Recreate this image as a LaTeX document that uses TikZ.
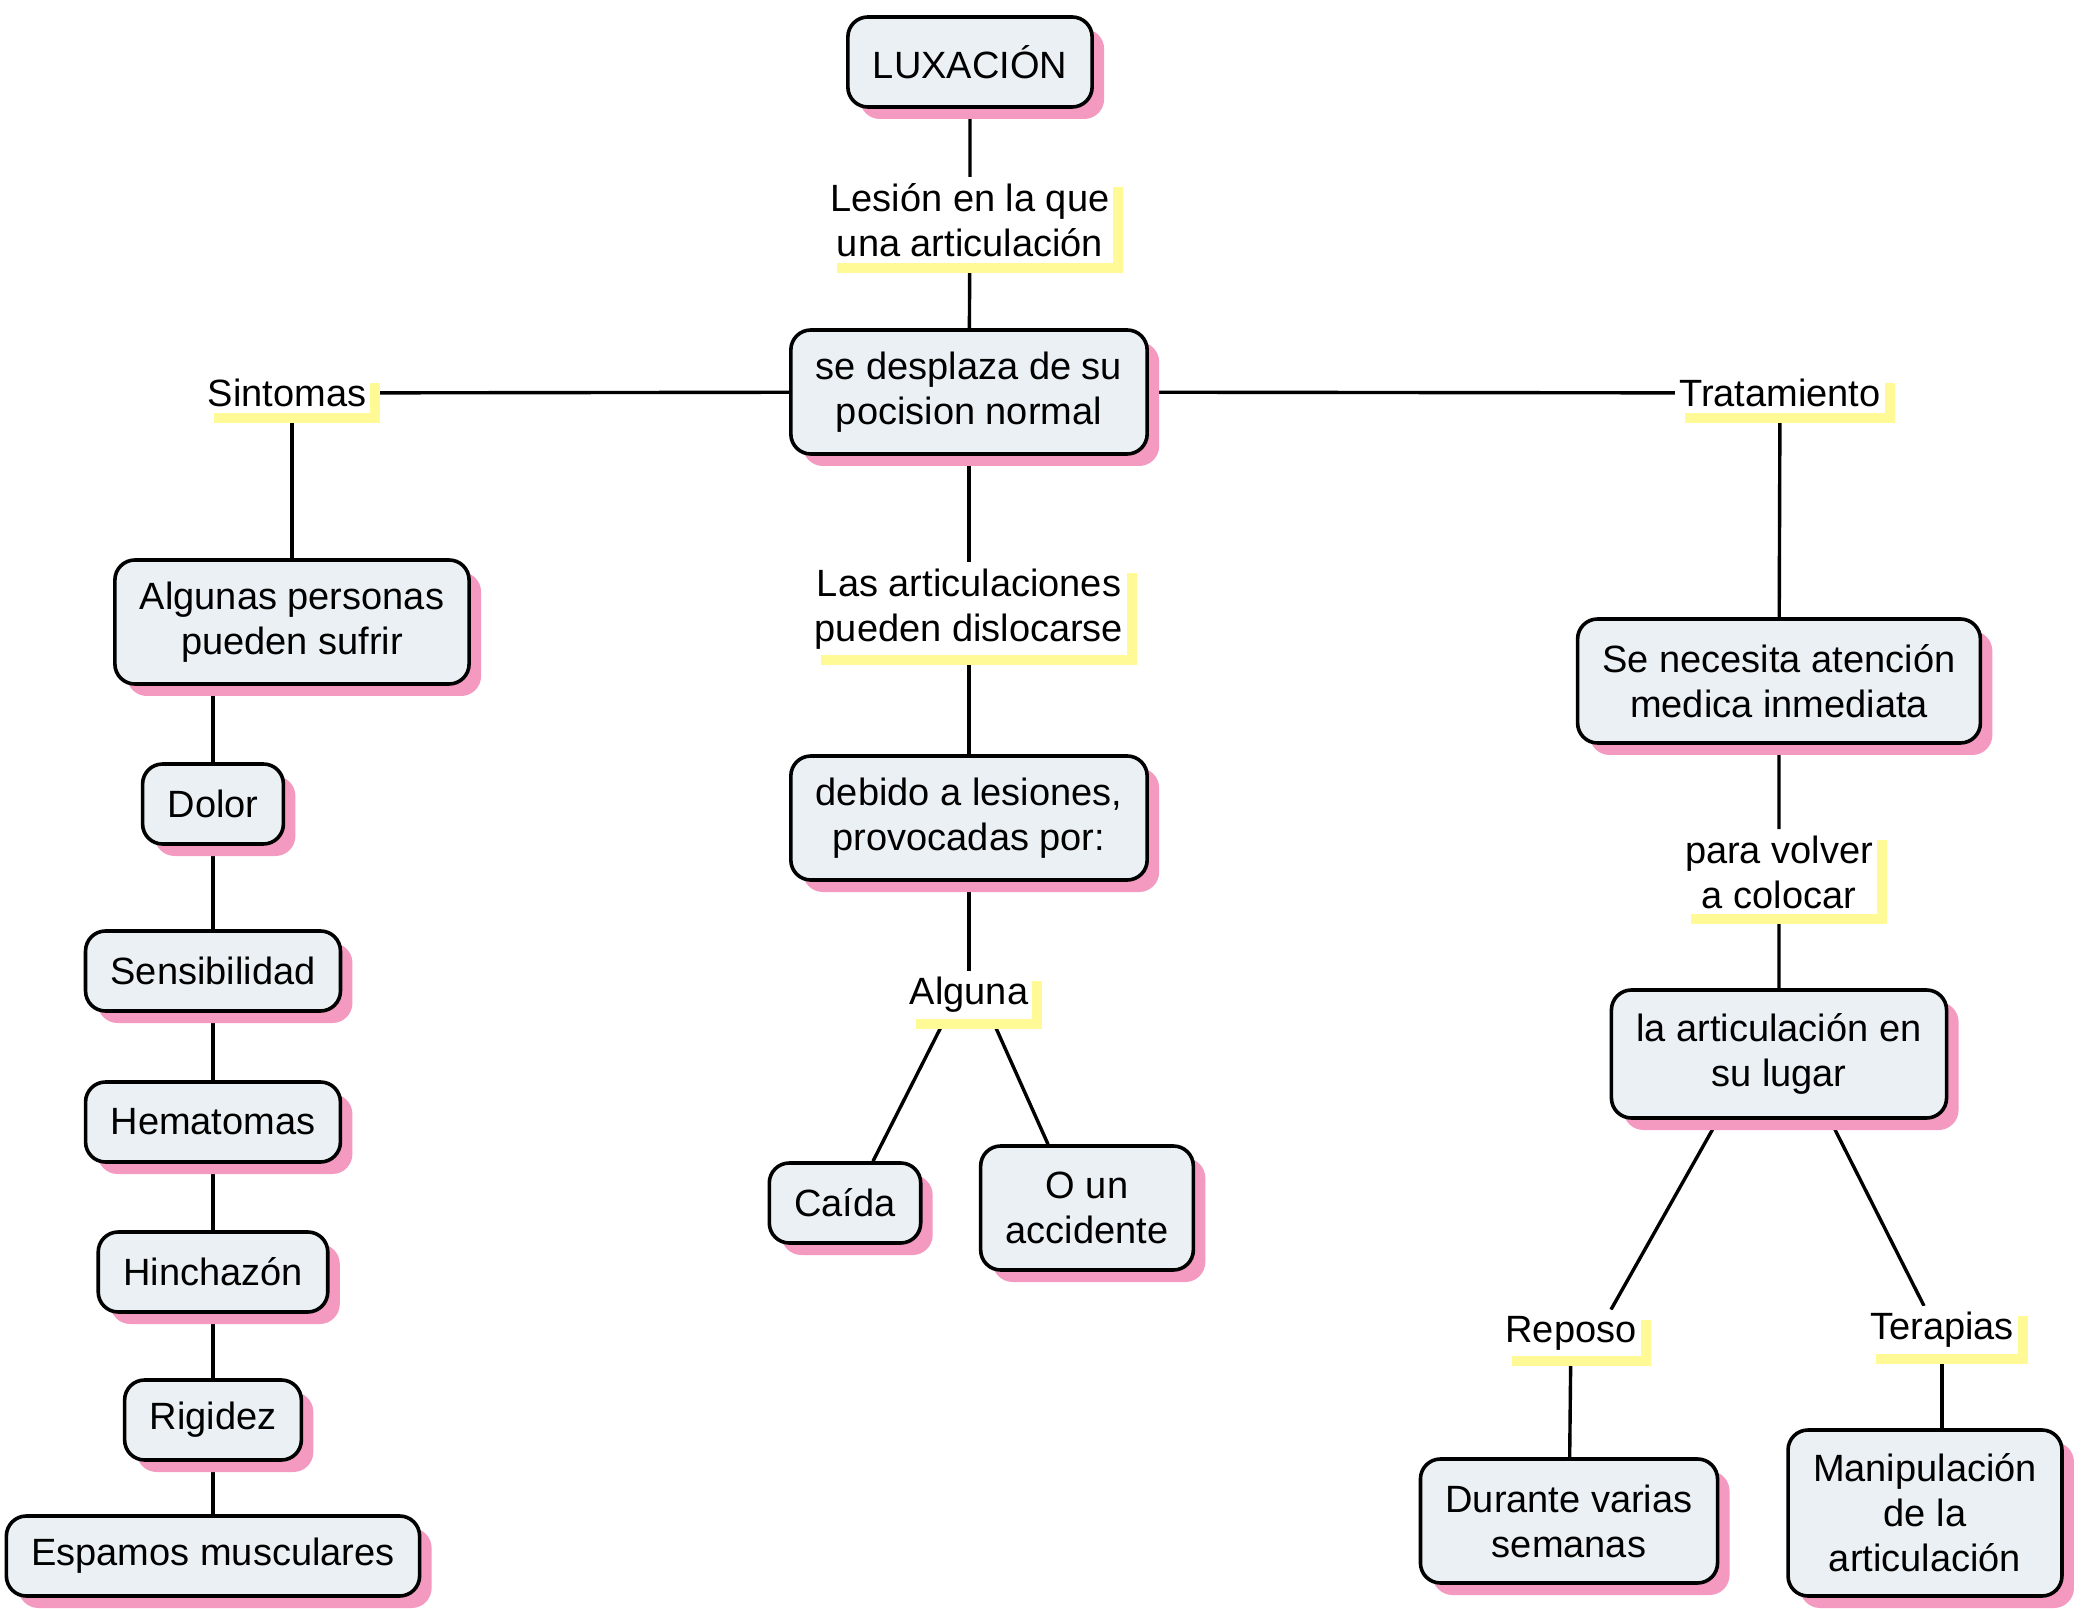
\documentclass[tikz,border=0pt]{standalone}
\usepackage{fontspec}
\setmainfont{Liberation Sans}
\usetikzlibrary{shadows,backgrounds}

\definecolor{boxfill}{RGB}{234,240,243}
\definecolor{boxpink}{RGB}{244,154,192}
\definecolor{lblyellow}{RGB}{255,249,150}

\begin{document}
\begin{tikzpicture}[x=0.5pt, y=-0.5pt,
    font=\fontsize{19}{22.5}\selectfont,
    concept/.style={draw=black, line width=1.8pt, rounded corners=10pt, fill=boxfill,
        align=center, inner xsep=12.5pt, inner ysep=4pt, minimum height=40pt,
        drop shadow={shadow xshift=6pt, shadow yshift=-6pt, fill=boxpink, opacity=1}},
    twoline/.style={concept, minimum height=62pt},
    linkword/.style={fill=white, align=center, inner xsep=2pt, inner ysep=3pt,
        drop shadow={shadow xshift=5pt, shadow yshift=-5pt, fill=lblyellow, opacity=1}},
    edge/.style={line width=1.7pt}]

    % Fix the page to the size of the original
    \useasboundingbox (0,0) rectangle (2095,1609);

    % Top of the map
    \node[concept, minimum height=45pt] (lux) at (970,62) {LUXACIÓN};
    \node[linkword] (lesion) at (970,220) {Lesión en la que\\una articulación};
    \node[twoline] (desp) at (969,392) {se desplaza de su\\pocision normal};

    % Left branch: symptoms
    \node[linkword] (sint) at (287,393) {Sintomas};
    \node[twoline] (algunas) at (292,622) {Algunas personas\\pueden sufrir};
    \node[concept] (dolor) at (213,804) {Dolor};
    \node[concept] (sensi) at (213,971) {Sensibilidad};
    \node[concept] (hema) at (213,1122) {Hematomas};
    \node[concept] (hinch) at (213,1272) {Hinchazón};
    \node[concept] (rigi) at (213,1420) {Rigidez};
    \node[concept] (espa) at (213,1556) {Espamos musculares};

    % Middle branch: causes
    \node[linkword] (artic) at (969,609) {Las articulaciones\\pueden dislocarse};
    \node[twoline] (debido) at (969,818) {debido a lesiones,\\provocadas por:};
    \node[linkword] (alguna) at (969,995) {Alguna};
    \node[concept] (caida) at (845,1203) {Caída};
    \node[twoline] (accid) at (1087,1208) {O un\\accidente};

    % Right branch: treatment
    \node[linkword] (trat) at (1780,393) {Tratamiento};
    \node[twoline] (necesita) at (1779,681) {Se necesita atención\\medica inmediata};
    \node[linkword] (volver) at (1779,872) {para volver\\a colocar};
    \node[twoline, minimum height=64pt] (lugar) at (1779,1054) {la articulación en\\su lugar};
    \node[linkword] (reposo) at (1571,1333) {Reposo};
    \node[linkword] (terap) at (1942,1330) {Terapias};
    \node[twoline] (durante) at (1569,1521) {Durante varias\\semanas};
    \node[concept, minimum height=83pt] (manip) at (1925,1513) {Manipulación\\de la\\articulación};

    % Connectors go under the nodes and their shadows
    \begin{scope}[on background layer]
        \fill[white] (0,0) rectangle (2095,1609);

        \draw[edge] (lux) -- (lesion) -- (desp);
        \draw[edge] (desp) -- (sint);
        \draw[edge] (desp) -- (trat);

        % left column
        \draw[edge] (algunas |- sint.south) -- (algunas.north);
        \draw[edge] (dolor |- algunas.south) -- (dolor.north);
        \draw[edge] (dolor) -- (sensi) -- (hema) -- (hinch) -- (rigi) -- (espa);

        % middle column
        \draw[edge] (desp) -- (artic) -- (debido) -- (alguna);
        \draw[edge] ([xshift=-12pt]alguna.south) -- ([xshift=14pt]caida.north);
        \draw[edge] ([xshift=11.5pt]alguna.south) -- ([xshift=-19.5pt]accid.north);

        % right column
        \draw[edge] (trat) -- (necesita) -- (volver) -- (lugar);
        \draw[edge] ([xshift=-30.5pt]lugar.south) -- ([xshift=20pt]reposo.north);
        \draw[edge] ([xshift=25.5pt]lugar.south) -- ([xshift=-9pt]terap.north);
        \draw[edge] (reposo) -- (durante);
        \draw[edge] (terap.south) -- (terap.south |- manip.north);
    \end{scope}

\end{tikzpicture}
\end{document}
